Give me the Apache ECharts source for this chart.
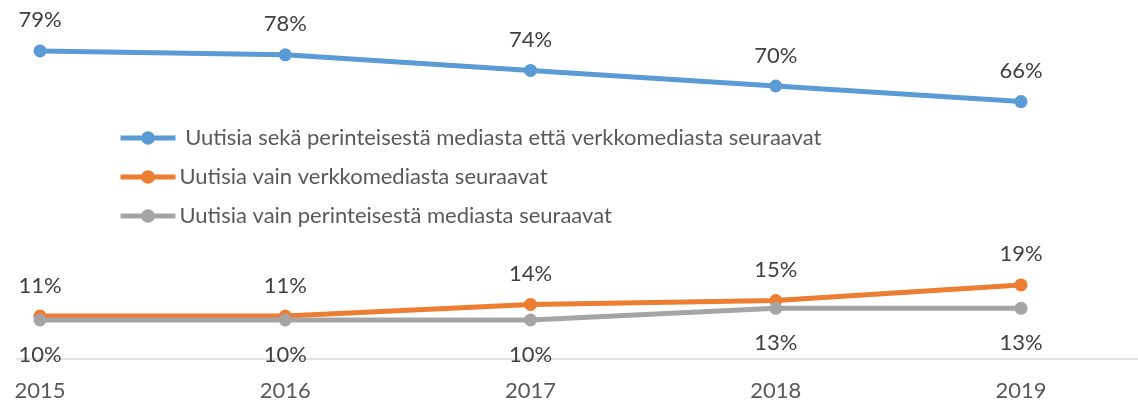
<!DOCTYPE html>
<html>
<head>
<meta charset="utf-8">
<script src="https://cdn.jsdelivr.net/npm/echarts@6/dist/echarts.min.js"></script>
<style>
  html,body{margin:0;padding:0;background:#fff;}
  #chart{width:1138px;height:403px;}
</style>
</head>
<body>
<div id="chart"></div>
<script>
// vuodet ja osuudet (%)
const years = [2015, 2016, 2017, 2018, 2019]
const bothMedia = [79, 78, 74, 70, 66]
const onlineOnly = [11, 11, 14, 15, 19]
const traditionalOnly = [10, 10, 10, 13, 13]
const seriesNames = [
  ' Uutisia sekä perinteisestä mediasta että verkkomediasta seuraavat',
  'Uutisia vain verkkomediasta seuraavat',
  'Uutisia vain perinteisestä mediasta seuraavat'
]

const font = 'Lato, "Open Sans", sans-serif'

const toPoints = arr => years.map((y, i) => [y, arr[i]])

const makeSeries = (name, arr, color, labelPos, dist) => ({
  name: name,
  type: 'line',
  data: toPoints(arr),
  symbol: 'circle',
  symbolSize: 13,
  color: color,
  lineStyle: { width: 5, color: color },
  itemStyle: { color: color },
  label: {
    show: true,
    position: labelPos,
    distance: dist,
    formatter: p => p.value[1] + '%',
    color: '#404040',
    fontSize: 22,
    fontFamily: font
  },
  emphasis: { disabled: true }
})

const chart = echarts.init(document.getElementById('chart'))

chart.setOption({
  animation: false,
  grid: { left: 17, right: 0, top: 8, bottom: 44 },
  legend: {
    orient: 'vertical',
    left: 113,
    top: 120,
    itemWidth: 55,
    itemHeight: 17,
    itemGap: 13,
    lineStyle: { width: 5 },
    textStyle: { color: '#595959', fontSize: 22, fontFamily: font, lineHeight: 26, padding: [0, 0, 0, -1] },
    data: seriesNames
  },
  xAxis: {
    type: 'value',
    min: 2014.9062,
    max: 2019.477,
    axisLine: { show: true, lineStyle: { color: '#d9d9d9', width: 1.5 } },
    axisTick: { show: false },
    splitLine: { show: false },
    axisLabel: {
      customValues: years,
      margin: 21,
      color: '#595959',
      fontSize: 22,
      fontFamily: font,
      formatter: v => String(v)
    }
  },
  yAxis: { type: 'value', min: 0, max: 90, show: false },
  series: [
    makeSeries(seriesNames[0], bothMedia, '#5b9bd5', 'top', 13),
    makeSeries(seriesNames[1], onlineOnly, '#ed7d31', 'top', 13),
    makeSeries(seriesNames[2], traditionalOnly, '#a5a5a5', 'bottom', 17)
  ]
})
</script>
</body>
</html>
